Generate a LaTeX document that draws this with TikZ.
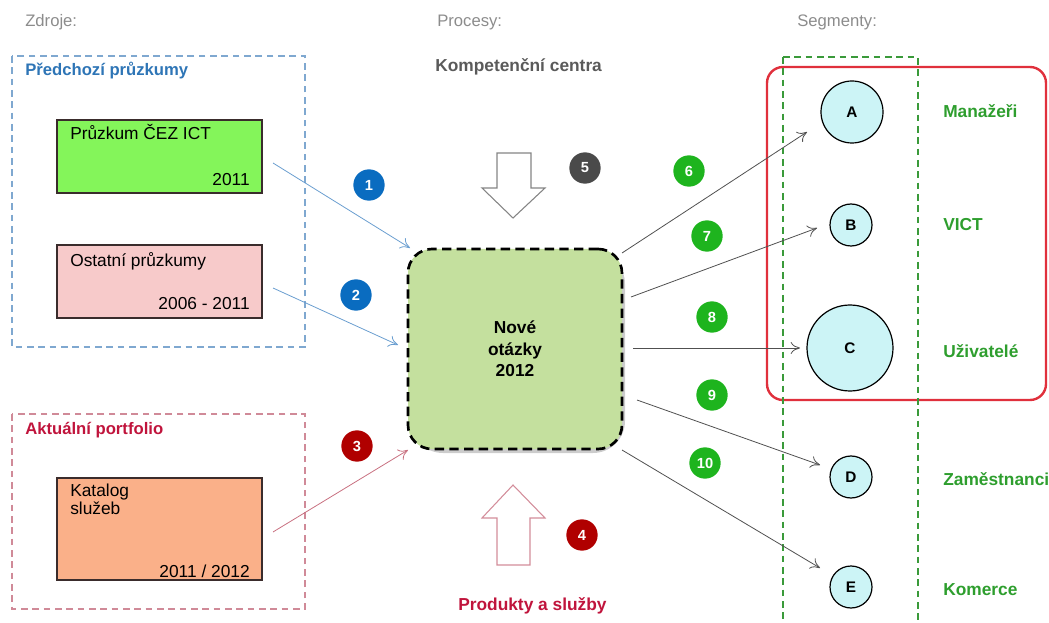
\documentclass[tikz,border=0pt]{standalone}
\usepackage{fontspec}
\setmainfont{Liberation Sans}
\usetikzlibrary{arrows.meta,calc}
\definecolor{ttlgray}{HTML}{8C8C8C}
\definecolor{kcgray}{HTML}{5A5A5A}
\definecolor{bluet}{HTML}{2E75B6}
\definecolor{bluec}{HTML}{0A6CC0}
\definecolor{redt}{HTML}{C0143C}
\definecolor{redc}{HTML}{B00000}
\definecolor{darkc}{HTML}{4A4A4A}
\definecolor{greenc}{HTML}{1EB41E}
\definecolor{greent}{HTML}{2E9E2E}
\definecolor{boxgreen}{HTML}{84F55A}
\definecolor{boxpink}{HTML}{F7CACA}
\definecolor{boxorange}{HTML}{FAB089}
\definecolor{centerfill}{HTML}{C4E09E}
\definecolor{segfill}{HTML}{CCF4F6}
\definecolor{bluedash}{HTML}{7FA8D0}
\definecolor{reddash}{HTML}{D08A98}
\definecolor{greendash}{HTML}{3A9A3A}
\definecolor{redframe}{HTML}{E0303C}
\definecolor{boxline}{HTML}{3A2C2C}
\definecolor{bluearrow}{HTML}{6A9ED0}
\definecolor{redarrow}{HTML}{C87080}
\definecolor{grayarrow}{HTML}{505050}
\begin{document}
\begin{tikzpicture}[x=0.75pt,y=-0.75pt,
  hdr/.style={font=\fontsize{12.5}{15}\selectfont, text=ttlgray, anchor=base west, inner sep=0},
  grp/.style={font=\fontsize{12.5}{15}\selectfont\bfseries, anchor=base west, inner sep=0},
  srcbox/.style={draw=boxline, line width=1.2pt, inner sep=0, minimum width=153.75pt},
  txt/.style={font=\fontsize{13}{15}\selectfont, inner sep=0},
  numc/.style={circle, fill=#1, text=white, font=\fontsize{11}{12}\selectfont\bfseries, minimum size=23.5pt, inner sep=0},
  seg/.style={circle, draw=black, fill=segfill, line width=0.9pt, font=\fontsize{11.5}{13}\selectfont\bfseries, inner sep=0},
  segl/.style={font=\fontsize{13}{15}\selectfont\bfseries, text=greent, anchor=base west, inner sep=0},
  conn/.style={-{To[length=7pt,width=9pt]}, line width=0.6pt},
]
\useasboundingbox (0,0) rectangle (1049,623);

% headings
\node[hdr] (hz) at (25,27) {Zdroje:};
\node[hdr] (hp) at (437,27) {Procesy:};
\node[hdr] (hs) at (797,27) {Segmenty:};

% group frames
\draw[bluedash, line width=1.5pt, dash pattern=on 5pt off 3.5pt] (12,56) rectangle (305,347);
\draw[reddash, line width=1.5pt, dash pattern=on 5pt off 3.5pt] (12,414) rectangle (305,609);
\node[grp, text=bluet] (tp) at (25,76) {Předchozí průzkumy};
\node[grp, text=redt] (ta) at (25,434) {Aktuální portfolio};

% source boxes
\node[srcbox, fill=boxgreen, minimum height=54.75pt] (gb) at (159.5,156.5) {};
\node[txt, anchor=base west] (gb1) at (70,140) {Průzkum ČEZ ICT};
\node[txt, anchor=base east] (gb2) at (250,186) {2011};

\node[srcbox, fill=boxpink, minimum height=54.75pt] (pb) at (159.5,281.5) {};
\node[txt, anchor=base west] (pb1) at (70,267) {Ostatní průzkumy};
\node[txt, anchor=base east] (pb2) at (250,310) {2006 - 2011};

\node[srcbox, fill=boxorange, minimum height=76.5pt] (ob) at (159.5,529) {};
\node[txt, anchor=base west, align=left] (ob1) at (70,496) {Katalog};
\node[txt, anchor=base west, align=left] (ob2) at (70,514) {služeb};
\node[txt, anchor=base east] (ob3) at (250,577) {2011 / 2012};

% central box
\fill[black!20, rounded corners=24pt] (411,252) rectangle (625,453);
\node[draw=black, fill=centerfill, line width=2pt, dash pattern=on 7pt off 4pt,
      rounded corners=18pt, minimum width=160.5pt, minimum height=150pt,
      font=\fontsize{13}{16}\selectfont\bfseries, align=center, inner sep=0] (cb) at (515,349) {Nové\\otázky\\2012};

% process labels
\node[font=\fontsize{13}{15}\selectfont\bfseries, text=kcgray, anchor=base west, inner sep=0] (kc) at (435,72) {Kompetenční centra};
\node[font=\fontsize{13}{15}\selectfont\bfseries, text=redt, anchor=base west, inner sep=0] (ps) at (458,610) {Produkty a služby};

% hollow arrows
\draw[grayarrow!70, line width=0.8pt, fill=white] (497,153) -- (531,153) -- (531,188) -- (545,188) -- (513,218) -- (482,188) -- (497,188) -- cycle;
\draw[redarrow!80, line width=0.8pt, fill=white] (513,485) -- (545,518) -- (530,518) -- (530,565) -- (497,565) -- (497,518) -- (482,518) -- cycle;

% segment frames
\draw[redframe, line width=1.8pt, rounded corners=12pt] (767,67) rectangle (1046,400);
\draw[greendash, line width=1pt, dash pattern=on 5pt off 3.5pt] (783,57) -- (918,57) -- (918,623) (783,57) -- (783,623);

% segments
\node[seg, minimum size=46.5pt] (A) at (852,112) {A};
\node[seg, minimum size=31.5pt] (B) at (851,225) {B};
\node[seg, minimum size=64.5pt] (C) at (850,348) {C};
\node[seg, minimum size=31.5pt] (D) at (851,477) {D};
\node[seg, minimum size=31.5pt] (E) at (851,587) {E};

\node[segl] (lA) at (943,118) {Manažeři};
\node[segl] (lB) at (943,231) {VICT};
\node[segl] (lC) at (943,358) {Uživatelé};
\node[segl] (lD) at (943,485) {Zaměstnanci};
\node[segl] (lE) at (943,595) {Komerce};

% connector end points
\coordinate (s1) at (273,163); \coordinate (t1) at (410,248);
\coordinate (s2) at (273,288); \coordinate (t2) at (398,345);
\coordinate (s3) at (273,532); \coordinate (t3) at (408,450);
\coordinate (s6) at (622,253); \coordinate (t6) at (807,132);
\coordinate (s7) at (631,297); \coordinate (t7) at (817,228);
\coordinate (s8) at (633,348); \coordinate (t8) at (800,348);
\coordinate (s9) at (637,400); \coordinate (t9) at (820,465);
\coordinate (s10) at (622,450); \coordinate (t10) at (820,568);

\draw[conn, bluearrow] (s1) -- (t1);
\draw[conn, bluearrow] (s2) -- (t2);
\draw[conn, redarrow] (s3) -- (t3);
\draw[conn, grayarrow] (s6) -- (t6);
\draw[conn, grayarrow] (s7) -- (t7);
\draw[conn, grayarrow] (s8) -- (t8);
\draw[conn, grayarrow] (s9) -- (t9);
\draw[conn, grayarrow] (s10) -- (t10);

% number badges
\node[numc=bluec] (n1) at (369,185) {1};
\node[numc=bluec] (n2) at (356,295) {2};
\node[numc=redc] (n3) at (357,446) {3};
\node[numc=redc] (n4) at (582,535) {4};
\node[numc=darkc] (n5) at (585,168) {5};
\node[numc=greenc] (n6) at (689,171) {6};
\node[numc=greenc] (n7) at (707,236) {7};
\node[numc=greenc] (n8) at (712,317) {8};
\node[numc=greenc] (n9) at (712,395) {9};
\node[numc=greenc] (n10) at (705,463) {10};
\end{tikzpicture}
\end{document}
